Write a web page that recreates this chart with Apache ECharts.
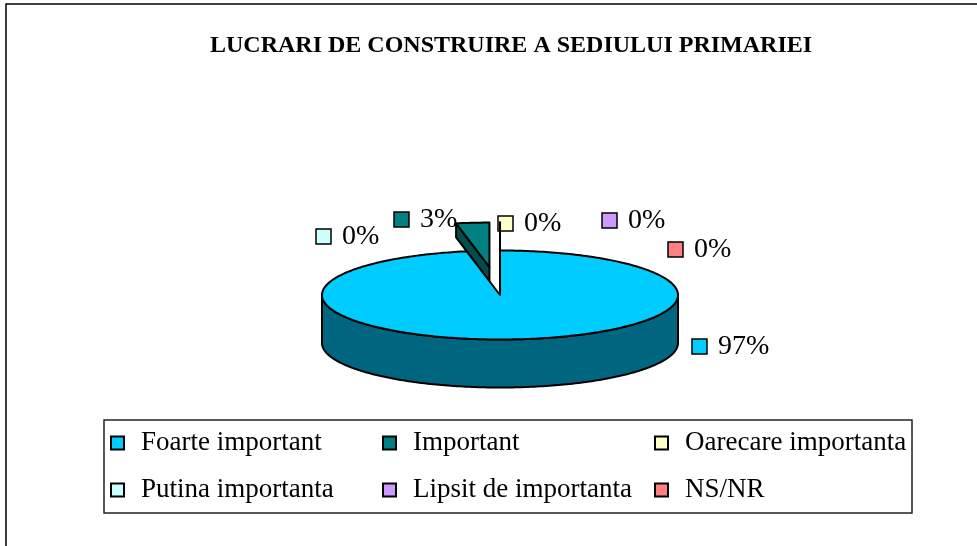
<!DOCTYPE html>
<html>
<head>
<meta charset="utf-8">
<title>LUCRARI DE CONSTRUIRE A SEDIULUI PRIMARIEI</title>
<script src="https://cdn.jsdelivr.net/npm/echarts@6/dist/echarts.min.js"></script>
<style>
  html, body { margin: 0; padding: 0; background: #fff; }
  #chart { width: 977px; height: 546px; }
</style>
</head>
<body>
<div id="chart"></div>
<script>
// date
var titleText = 'LUCRARI DE CONSTRUIRE A SEDIULUI PRIMARIEI';
var categories = ['Foarte important', 'Important', 'Oarecare importanta', 'Putina importanta', 'Lipsit de importanta', 'NS/NR'];
var values = [97, 3, 0, 0, 0, 0];
var colors = ['#00CCFF', '#008080', '#FFFFCC', '#CCFFFF', '#CC99FF', '#FF8080'];
var sideColors = ['#00657F', '#004D4D', '#99997A', '#7A9999', '#7A5C99', '#994D4D'];
var exploded = [false, true, true, true, true, true];

// pozitii etichete (coltul patratelului), layout
var labelPos = [[692, 339], [394, 212], [498, 216], [316, 229], [602, 213], [668, 242]];

var FONT = '"Liberation Serif", "Times New Roman", serif';
var pie = { cx: 500, cy: 295, rx: 178, ry: 44.5, depth: 48, explodeDepth: 14, explode: 0.63 };

var total = values.reduce(function (a, b) { return a + b; }, 0);

function pt(deg, ox, oy) {
  var r = deg * Math.PI / 180;
  return [ox + pie.rx * Math.sin(r), oy - pie.ry * Math.cos(r)];
}
function arc(a, b, ox, oy) {
  var pts = [];
  var n = Math.max(1, Math.ceil(Math.abs(b - a)));
  for (var k = 0; k <= n; k++) {
    pts.push(pt(a + (b - a) * k / n, ox, oy));
  }
  return pts;
}
function shift(pts, dy) {
  return pts.map(function (p) { return [p[0], p[1] + dy]; });
}

function renderSlice(params, api) {
  var i = params.seriesIndex;
  var before = 0;
  for (var j = 0; j < i; j++) before += values[j];
  var a = before / total * 360;
  var b = (before + api.value(0)) / total * 360;
  var mid = (a + b) / 2 * Math.PI / 180;
  var ox = pie.cx, oy = pie.cy;
  if (exploded[i]) {
    ox += pie.rx * pie.explode * Math.sin(mid);
    oy -= pie.ry * pie.explode * Math.cos(mid);
  }
  var depth = exploded[i] ? pie.explodeDepth : pie.depth;
  var line = { stroke: '#000', lineWidth: 2, lineJoin: 'round' };
  var children = [];

  // peretele din fata
  var fa = Math.max(a, 90), fb = Math.min(b, 270);
  if (fb > fa) {
    var top = arc(fa, fb, ox, oy);
    var bottom = shift(top, depth).reverse();
    children.push({
      type: 'polygon',
      shape: { points: top.concat(bottom) },
      style: Object.assign({ fill: sideColors[i] }, line)
    });
  }
  // fete radiale
  var faces = [];
  if (Math.sin(a * Math.PI / 180) < -1e-6) faces.push(a);
  if (Math.sin(b * Math.PI / 180) > 1e-6) faces.push(b);
  faces.forEach(function (ang) {
    var o = pt(ang, ox, oy);
    children.push({
      type: 'polygon',
      shape: { points: [[ox, oy], o, [o[0], o[1] + depth], [ox, oy + depth]] },
      style: Object.assign({ fill: sideColors[i] }, line)
    });
  });
  // fata de sus
  children.push({
    type: 'polygon',
    shape: { points: [[ox, oy]].concat(arc(a, b, ox, oy)) },
    style: Object.assign({ fill: colors[i] }, line)
  });

  // eticheta
  var lp = labelPos[i];
  children.push({
    type: 'rect',
    shape: { x: lp[0], y: lp[1], width: 15, height: 15 },
    style: { fill: colors[i], stroke: '#000', lineWidth: 1.5 }
  });
  children.push({
    type: 'text',
    x: lp[0] + 26,
    y: lp[1] + 8,
    style: {
      text: Math.round(api.value(0) / total * 100) + '%',
      fontFamily: FONT,
      fontSize: 28,
      fill: '#000',
      verticalAlign: 'middle'
    }
  });
  return { type: 'group', children: children };
}

var chart = echarts.init(document.getElementById('chart'));

var series = categories.map(function (name, i) {
  return {
    type: 'custom',
    name: name,
    coordinateSystem: 'none',
    silent: true,
    z: exploded[i] ? 1 : 2,
    itemStyle: { color: colors[i], borderColor: '#000', borderWidth: 1 },
    data: [[values[i]]],
    renderItem: renderSlice
  };
});

chart.setOption({
  backgroundColor: '#fff',
  animation: false,
  title: {
    text: titleText,
    left: 205,
    top: 29,
    textStyle: { fontFamily: FONT, fontSize: 24, fontWeight: 'bold', color: '#000' }
  },
  legend: {
    data: categories,
    left: 104,
    top: 420,
    width: 840,
    orient: 'horizontal',
    icon: 'rect',
    itemWidth: 13,
    itemHeight: 13,
    itemGap: 17,
    padding: [8, 3, 8, 6],
    borderColor: '#222',
    borderWidth: 1.5,
    selectedMode: false,
    textStyle: {
      fontFamily: FONT,
      fontSize: 27,
      color: '#000',
      width: 224,
      lineHeight: 30,
      padding: [0, 0, 0, 12]
    }
  },
  graphic: [{
    type: 'rect',
    silent: true,
    shape: { x: 6, y: 4, width: 1200, height: 800 },
    style: { fill: 'none', stroke: '#000', lineWidth: 1.5 }
  }],
  series: series
});
</script>
</body>
</html>
